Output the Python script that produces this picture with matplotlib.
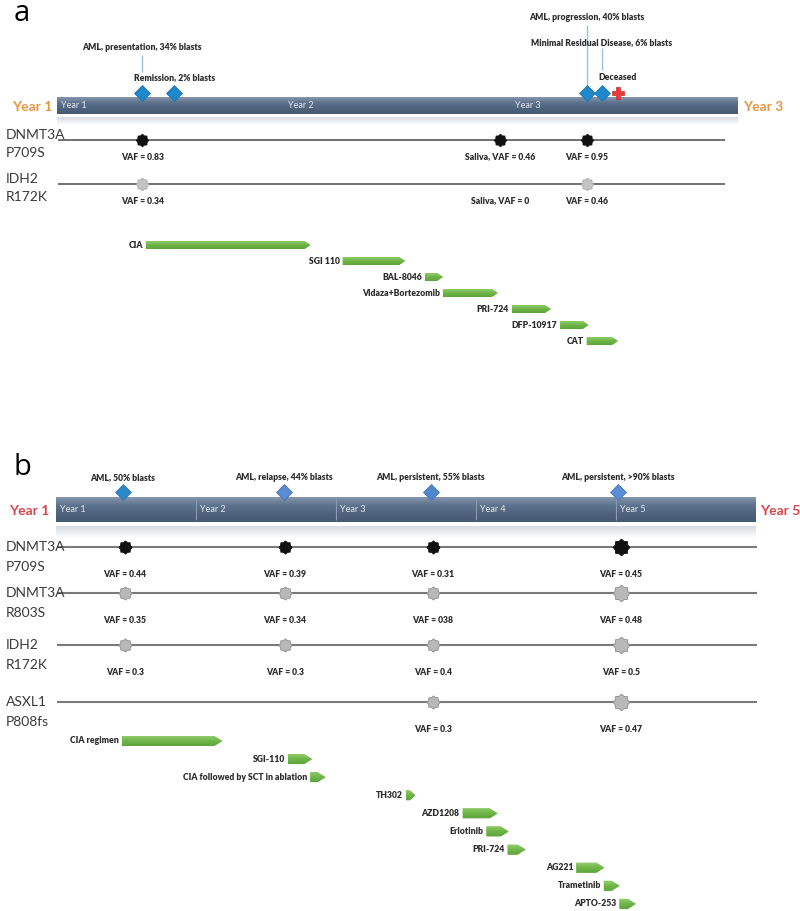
import numpy as np
import matplotlib.pyplot as plt
from matplotlib.path import Path
from matplotlib.colors import LinearSegmentedColormap
from matplotlib.transforms import offset_copy, blended_transform_factory

plt.rcParams['font.family'] = ['Lato', 'DejaVu Sans']

# ---- panel a (months from start of Year 1) ----
a_years = ["Year 1", "Year 2", "Year 3"]
a_events = ["AML, presentation, 34% blasts", "Remission, 2% blasts",
            "AML, progression, 40% blasts", "Minimal Residual Disease, 6% blasts",
            "Deceased"]
a_event_months = [4.5, 6.2, 28.0, 28.8, 29.65]
a_sample_months = [4.5, 23.4, 28.0]
a_gene_names = ["DNMT3A", "IDH2"]
a_gene_variants = ["P709S", "R172K"]
a_vaf = [["VAF = 0.83", "Saliva, VAF = 0.46", "VAF = 0.95"],
         ["VAF = 0.34", "Saliva, VAF = 0", "VAF = 0.46"]]
a_detected = [[1, 1, 1], [1, 0, 1]]
a_drugs = ["CIA", "SGI 110", "BAL-8046", "Vidaza+Bortezomib", "PRI-724",
           "DFP-10917", "CAT"]
a_drug_start = [4.7, 15.1, 19.45, 20.4, 24.05, 26.6, 28.0]
a_drug_end = [13.4, 18.4, 20.4, 23.3, 26.1, 28.1, 29.65]

# ---- panel b ----
b_years = ["Year 1", "Year 2", "Year 3", "Year 4", "Year 5"]
b_events = ["AML, 50% blasts", "AML, relapse, 44% blasts",
            "AML, persistent, 55% blasts", "AML, persistent, >90% blasts"]
b_event_months = [5.7, 19.5, 32.1, 48.2]
b_sample_months = [5.9, 19.6, 32.3, 48.4]
b_gene_names = ["DNMT3A", "DNMT3A", "IDH2", "ASXL1"]
b_gene_variants = ["P709S", "R803S", "R172K", "P808fs"]
b_vaf = [["VAF = 0.44", "VAF = 0.39", "VAF = 0.31", "VAF = 0.45"],
         ["VAF = 0.35", "VAF = 0.34", "VAF = 038", "VAF = 0.48"],
         ["VAF = 0.3", "VAF = 0.3", "VAF = 0.4", "VAF = 0.5"],
         ["", "", "VAF = 0.3", "VAF = 0.47"]]
b_detected = [[1, 1, 1, 1], [1, 1, 1, 1], [1, 1, 1, 1], [0, 0, 1, 1]]
b_drugs = ["CIA regimen", "SGI-110", "CIA followed by SCT in ablation", "TH302",
           "AZD1208", "Erlotinib", "PRI-724", "AG221", "Trametinib", "APTO-253"]
b_drug_start = [5.65, 19.9, 21.8, 30.0, 34.85, 36.9, 38.7, 44.6, 46.95, 48.3]
b_drug_end = [14.25, 21.95, 23.1, 30.8, 37.85, 38.8, 40.25, 47.0, 48.3, 49.7]

W, H = 800, 911
TXT = '#2e2e2e'
bar_cmap = LinearSegmentedColormap.from_list('bar', ['#8596ad', '#5d728d', '#4f637d', '#45596f'])
shadow_cmap = LinearSegmentedColormap.from_list('sh', ['#d6dbe1', '#ffffff'])
green_cmap = LinearSegmentedColormap.from_list('g', ['#8fcc68', '#6fb548', '#5fa53c'])


def seal_marker(n=8, inner=0.8):
    ang = np.linspace(0, 2 * np.pi, 2 * n, endpoint=False)
    r = np.where(np.arange(2 * n) % 2 == 0, 1.0, inner)
    v = np.column_stack([r * np.sin(ang), r * np.cos(ang)])
    v = np.vstack([v, v[:1]])
    codes = [Path.MOVETO] + [Path.LINETO] * (len(v) - 2) + [Path.CLOSEPOLY]
    return Path(v, codes)


SEAL = seal_marker()

fig = plt.figure(figsize=(W / 100, H / 100), dpi=100)


def panel_axes(x0, x1, y0, y1, span):
    ax = fig.add_axes([x0 / W, 1 - y1 / H, (x1 - x0) / W, (y1 - y0) / H])
    ax.set_xlim(0, span)
    ax.set_ylim(y1, y0)
    ax.axis('off')
    return ax


def shifted(ax, dx=0, dy=0):
    return offset_copy(ax.transData, fig=fig, x=dx, y=dy, units='dots')


def draw_bar(ax, span, top, bottom, sh_top, sh_bottom, years, dividers):
    grad = np.linspace(0, 1, 60).reshape(-1, 1)
    ax.imshow(grad, extent=(0, span, bottom, top), aspect='auto', cmap=bar_cmap, zorder=1)
    ax.imshow(grad, extent=(0, span, sh_bottom, sh_top), aspect='auto', cmap=shadow_cmap, zorder=1)
    mid = (top + bottom) / 2
    for i, y in enumerate(years):
        ax.text(i * 12, mid, y, color='#e4e8ee', fontsize=6.5, va='center', ha='left',
                transform=shifted(ax, 4, 0), zorder=3)
    if dividers:
        ax.vlines([12 * (i + 1) for i in range(len(years) - 1)], top + 2, bottom - 2,
                  color='#8a9ab0', lw=0.8, zorder=2)


def draw_drugs(ax, names, starts, ends, y0, step, h, tip_px, px_per_month):
    tip = tip_px / px_per_month
    for i, (n, s, e) in enumerate(zip(names, starts, ends)):
        y = y0 + i * step
        t = min(tip, (e - s) * 0.6)
        xs = [s, e - t, e, e - t, s]
        ys = [y - h / 2, y - h / 2, y, y + h / 2, y + h / 2]
        poly = ax.fill(xs, ys, color='#6fb548', lw=0, zorder=2)[0]
        im = ax.imshow(np.linspace(0, 1, 30).reshape(-1, 1), extent=(s, e, y + h / 2, y - h / 2),
                       aspect='auto', cmap=green_cmap, zorder=2)
        im.set_clip_path(poly)
        ax.text(s, y, n, ha='right', va='center', fontsize=6.2, fontweight='heavy', color=TXT,
                transform=shifted(ax, -3, 0))


def draw_genes(ax, names, variants, vaf, detected, months, line_y, line_end,
               name_dy, var_dy, vaf_dy, colors, sizes, lcolor, lw):
    lab = blended_transform_factory(fig.transFigure, ax.transData)
    for g, y in enumerate(line_y):
        ax.hlines(y, 0.05, line_end, color=lcolor, lw=lw, zorder=1, clip_on=False)
        ax.text(6 / W, y + name_dy, names[g], transform=lab, fontsize=10, color='#3a3a3a',
                va='center', ha='left')
        ax.text(6 / W, y + var_dy, variants[g], transform=lab, fontsize=10, color='#3a3a3a',
                va='center', ha='left')
        for j, m in enumerate(months):
            if detected[g][j]:
                fc, ec = colors[g]
                ax.plot(m, y, marker=SEAL, ms=sizes[j], mfc=fc, mec=ec, mew=0.6,
                        zorder=3, clip_on=False)
            if vaf[g][j]:
                ax.text(m, y + vaf_dy, vaf[g][j], ha='center', va='center', fontsize=6.2,
                        fontweight='heavy', color=TXT)


# ================= panel a =================
ax_a = panel_axes(57, 738, 0, 360, 36)
draw_bar(ax_a, 36, 97, 114, 117, 125, a_years, False)
fig.text(14 / W, 1 - 21 / H, 'a', fontsize=21, family='Open Sans', va='baseline')
fig.text(52 / W, 1 - 107 / H, 'Year 1', color='#ec9440', fontsize=10, fontweight='bold',
         ha='right', va='center')
fig.text(743 / W, 1 - 107 / H, 'Year 3', color='#ec9440', fontsize=10, fontweight='bold',
         ha='left', va='center')

a_label_y = [48, 78, 17, 43, 78]
a_leaders = [(55, 72), None, (25, 88), (48, 70), None]
for i, (lab, m) in enumerate(zip(a_events, a_event_months)):
    ax_a.text(m, a_label_y[i], lab, ha='center', va='center', fontsize=6.2,
              fontweight='heavy', color=TXT)
    if a_leaders[i]:
        ax_a.vlines(m, *a_leaders[i], color='#9cc4e2', lw=1, zorder=1)
    if lab == "Deceased":
        ax_a.plot(m, 93, marker='P', ms=8.5, color='#e83a3a', mec='#c82828', mew=0.5, zorder=4)
    else:
        ax_a.plot(m, 93, marker='D', ms=8, color='#1f88cc', mec='#1a6fa8', mew=0.5, zorder=4)

draw_genes(ax_a, a_gene_names, a_gene_variants, a_vaf, a_detected, a_sample_months,
           [140, 184], 35.3, -5, 13, 17,
           [('#111111', '#111111'), ('#c4c4c4', '#a8a8a8')], [9, 9, 9], '#4a4a4a', 1.1)
draw_drugs(ax_a, a_drugs, a_drug_start, a_drug_end, 245, 16, 8, 6, 681 / 36)

# ================= panel b =================
ax_b = panel_axes(56, 756, 440, 911, 60)
draw_bar(ax_b, 60, 497, 522, 526, 538, b_years, True)
fig.text(14 / W, 1 - 475 / H, 'b', fontsize=21, family='Open Sans', va='baseline')
fig.text(49 / W, 1 - 511 / H, 'Year 1', color='#d9434b', fontsize=10, fontweight='bold',
         ha='right', va='center')
fig.text(760 / W, 1 - 511 / H, 'Year 5', color='#d9434b', fontsize=10, fontweight='bold',
         ha='left', va='center')

b_diamond_colors = ['#2a88cc', '#5b8bd2', '#4f87cf', '#5a8fd6']
for i, (lab, m) in enumerate(zip(b_events, b_event_months)):
    ax_b.text(m, 478, lab, ha='center', va='center', fontsize=6.2, fontweight='heavy', color=TXT)
    ax_b.plot(m, 492, marker='D', ms=8.5, color=b_diamond_colors[i], mec='#3d6fae',
              mew=0.5, zorder=4)

draw_genes(ax_b, b_gene_names, b_gene_variants, b_vaf, b_detected, b_sample_months,
           [547, 593, 645, 702], 60.1, 0, 20, 28,
           [('#111111', '#111111'), ('#b8b8b8', '#8e8e8e'), ('#b8b8b8', '#8e8e8e'),
            ('#b8b8b8', '#8e8e8e')], [9.5, 9.5, 9.5, 12], '#7a7a7a', 1.5)
draw_drugs(ax_b, b_drugs, b_drug_start, b_drug_end, 741, 18.1, 10, 8, 700 / 60)

fig.savefig('out.png', dpi=100)
